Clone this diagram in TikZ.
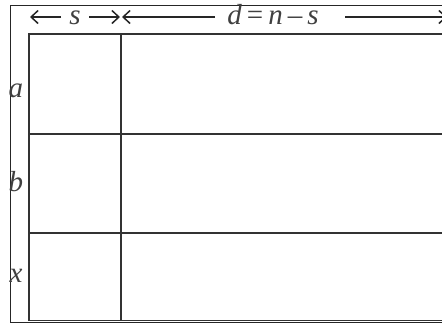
\documentclass[tikz,border=0pt]{standalone}
\usepackage{fontspec}
\setmainfont{Liberation Serif}
\usetikzlibrary{arrows.meta}
\begin{document}
\begin{tikzpicture}[x=1pt,y=-1pt,
  frame/.style={line width=0.9pt,draw=black!85},
  gridline/.style={line width=1.8pt,draw=black!80},
  dimarrow/.style={line width=1.5pt,draw=black!85,-{Straight Barb[length=7pt,width=13pt,line width=1.5pt]}},
  lbl/.style={font=\fontsize{29}{29}\selectfont\itshape,text=black!75,inner sep=0pt,anchor=base}]
\useasboundingbox (0,0) rectangle (442,325);
\begin{scope}
\clip (0,0) rectangle (442,325);
% outer frame
\draw[frame] (470,5) -- (10,5) -- (10,322.5) -- (470,322.5);
% grid
\draw[gridline] (470,34) -- (29,34) -- (29,320.5) -- (470,320.5);
\draw[gridline] (121,34) -- (121,320.5);
\draw[gridline] (29,134) -- (470,134);
\draw[gridline] (29,233) -- (470,233);
% labels
\node[lbl] (s) at (75,24) {s};
\node[lbl] (d) at (273,24) {d\hspace{5pt}\upshape=\hspace{5pt}\itshape n\hspace{5pt}\upshape\textendash\hspace{5pt}\itshape s};
\node[lbl] (a) at (16,97) {a};
\node[lbl] (b) at (16,191) {b};
\node[lbl] (x) at (16,282) {x};
% dimension coordinates
\coordinate (sL) at (30,17);
\coordinate (sR) at (120,17);
\coordinate (dL) at (122,17);
\coordinate (dR) at (447,17);
\draw[dimarrow] (61,17) -- (sL);
\draw[dimarrow] (89,17) -- (sR);
\draw[dimarrow] (215,17) -- (dL);
\draw[dimarrow] (345,17) -- (dR);
\end{scope}
\end{tikzpicture}
\end{document}
